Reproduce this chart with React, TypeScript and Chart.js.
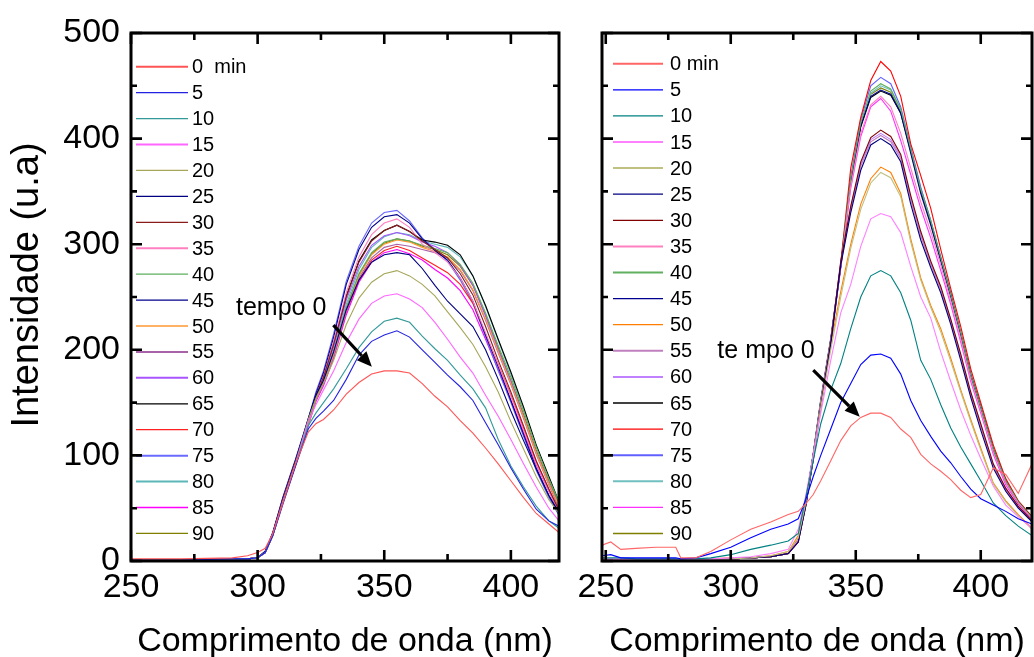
import React, { useEffect, useRef } from 'react';
import { Chart, registerables } from 'chart.js';

Chart.register(...registerables);

const FONT = "'Liberation Sans', Arial, Helvetica, sans-serif";

// ---------- axis ticks ----------
const X_TICKS = [250, 300, 350, 400];
const X_MINOR = [275, 325, 375];
const Y_TICKS = [0, 100, 200, 300, 400, 500];
const Y_MINOR = [50, 150, 250, 350, 450];

// ---------- left panel ----------
const WL_LEFT = [250, 270, 290, 296, 300, 303, 306, 310, 315, 320, 323, 326, 330, 335, 340, 345, 350, 355, 360, 365, 370, 375, 380, 385, 390, 395, 400, 405, 410, 415, 419];
const LABELS_LEFT = ['0  min', '5', '10', '15', '20', '25', '30', '35', '40', '45', '50', '55', '60', '65', '70', '75', '80', '85', '90'];
const LEFT_0 = [2, 2, 3, 5, 8, 12, 26, 55, 92, 122, 130, 134, 143, 158, 169, 177, 180, 180, 178, 168, 156, 146, 133, 121, 107, 92, 76, 60, 45, 35, 27];
const LEFT_5 = [1, 1, 2, 2, 3, 8, 24, 54, 90, 125, 135, 142, 152, 172, 195, 208, 214, 218, 212, 200, 188, 176, 165, 152, 131, 110, 88, 68, 49, 38, 33];
const LEFT_10 = [1, 1, 2, 2, 3, 8, 24, 55, 91, 128, 140, 150, 163, 182, 202, 217, 227, 230, 226, 213, 201, 190, 176, 163, 145, 115, 90, 70, 52, 38, 31];
const LEFT_15 = [1, 1, 2, 2, 3, 8, 25, 56, 92, 132, 148, 162, 180, 207, 229, 244, 251, 253, 248, 240, 226, 210, 193, 178, 157, 137, 115, 92, 70, 50, 38];
const LEFT_20 = [1, 1, 2, 2, 3, 8, 25, 57, 93, 134, 154, 168, 190, 224, 249, 264, 272, 275, 270, 262, 251, 236, 221, 205, 184, 160, 132, 106, 80, 58, 45];
const LEFT_25 = [1, 1, 2, 2, 3, 9, 25, 58, 94, 135, 157, 171, 198, 238, 266, 283, 290, 292, 290, 277, 261, 246, 234, 222, 200, 172, 142, 114, 87, 62, 46];
const LEFT_30 = [1, 1, 2, 2, 3, 9, 26, 59, 95, 133, 156, 174, 205, 250, 283, 303, 313, 318, 312, 303, 295, 287, 272, 252, 222, 190, 160, 128, 95, 68, 48];
const LEFT_35 = [1, 1, 2, 2, 3, 8, 25, 58, 94, 132, 156, 175, 207, 254, 288, 309, 320, 324, 316, 300, 292, 283, 268, 246, 216, 186, 156, 124, 92, 66, 46];
const LEFT_40 = [1, 1, 2, 2, 3, 9, 25, 57, 92, 130, 154, 171, 198, 240, 272, 292, 302, 305, 303, 299, 296, 292, 281, 263, 235, 204, 174, 142, 108, 78, 56];
const LEFT_45 = [1, 1, 2, 2, 3, 9, 27, 60, 96, 134, 158, 178, 212, 262, 295, 316, 326, 328, 320, 305, 294, 285, 268, 246, 214, 184, 152, 120, 88, 62, 44];
const LEFT_50 = [1, 1, 2, 2, 3, 8, 24, 56, 91, 129, 153, 169, 196, 238, 270, 290, 300, 304, 302, 297, 293, 288, 276, 257, 229, 198, 168, 136, 102, 73, 52];
const LEFT_55 = [1, 1, 2, 2, 3, 8, 24, 56, 91, 129, 152, 168, 194, 236, 268, 287, 297, 300, 298, 295, 292, 287, 275, 256, 228, 197, 167, 135, 101, 72, 50];
const LEFT_60 = [1, 1, 2, 2, 3, 9, 26, 59, 95, 133, 156, 173, 203, 247, 279, 299, 308, 311, 308, 302, 298, 292, 280, 261, 232, 200, 170, 137, 103, 74, 52];
const LEFT_65 = [1, 1, 2, 2, 3, 9, 26, 59, 95, 133, 157, 175, 206, 251, 284, 304, 313, 318, 312, 304, 302, 299, 290, 270, 242, 210, 179, 146, 110, 80, 56];
const LEFT_70 = [1, 1, 2, 2, 3, 8, 25, 57, 93, 131, 155, 170, 196, 236, 266, 285, 294, 298, 294, 287, 280, 273, 262, 244, 215, 186, 157, 126, 94, 68, 48];
const LEFT_75 = [1, 1, 2, 2, 3, 9, 27, 61, 97, 135, 160, 180, 215, 265, 298, 320, 330, 332, 322, 306, 295, 284, 266, 244, 212, 180, 150, 118, 86, 60, 43];
const LEFT_80 = [1, 1, 2, 2, 3, 8, 25, 57, 92, 130, 154, 171, 200, 243, 276, 297, 307, 311, 309, 303, 300, 297, 288, 270, 241, 209, 177, 144, 109, 79, 55];
const LEFT_85 = [1, 1, 2, 2, 3, 8, 24, 56, 91, 128, 151, 166, 192, 233, 264, 283, 292, 295, 291, 285, 276, 268, 256, 238, 210, 181, 152, 122, 91, 66, 47];
const LEFT_90 = [1, 1, 2, 2, 3, 8, 25, 57, 92, 130, 154, 170, 197, 239, 271, 291, 301, 305, 303, 298, 295, 290, 279, 261, 233, 202, 171, 139, 105, 76, 54];
const SERIES_LEFT = [LEFT_0, LEFT_5, LEFT_10, LEFT_15, LEFT_20, LEFT_25, LEFT_30, LEFT_35, LEFT_40, LEFT_45, LEFT_50, LEFT_55, LEFT_60, LEFT_65, LEFT_70, LEFT_75, LEFT_80, LEFT_85, LEFT_90];
const COLORS_LEFT = ['#ff5555', '#2222e0', '#339999', '#ff66ff', '#a6a65a', '#000080', '#8b1c1c', '#ff7fbf', '#5fae5f', '#00008b', '#ff9933', '#a862a8', '#a855ff', '#000000', '#ff2020', '#6a6aff', '#5cb8b8', '#ff00ff', '#808000'];

// ---------- right panel ----------
const WL_RIGHT = [248.5, 252, 256, 262, 270, 278, 280, 286, 292, 300, 308, 316, 323, 327, 330, 333, 336, 340, 344, 348, 352, 356, 360, 364, 368, 372, 376, 380, 384, 388, 392, 396, 400, 405, 410, 415, 420.5];
const LABELS_RIGHT = ['0 min', '5', '10', '15', '20', '25', '30', '35', '40', '45', '50', '55', '60', '65', '70', '75', '80', '85', '90'];
const RIGHT_0 = [15, 18, 11, 12, 13, 13, 3, 3, 9, 20, 30, 37, 44, 47, 54, 63, 76, 95, 114, 128, 136, 140, 140, 136, 125, 117, 101, 92, 85, 77, 67, 60, 63, 88, 82, 64, 92];
const RIGHT_5 = [5, 6, 3, 3, 3, 3, 2, 3, 7, 13, 22, 30, 35, 40, 58, 80, 100, 125, 150, 168, 186, 195, 196, 192, 177, 152, 133, 118, 104, 93, 80, 68, 59, 53, 47, 40, 35];
const RIGHT_10 = [3, 3, 3, 2, 2, 2, 2, 2, 3, 6, 11, 15, 19, 26, 60, 95, 130, 162, 187, 220, 250, 270, 275, 270, 254, 228, 190, 172, 148, 126, 108, 92, 76, 55, 43, 33, 24];
const RIGHT_15 = [2, 2, 2, 2, 2, 2, 2, 2, 2, 3, 4, 7, 11, 30, 62, 100, 140, 190, 235, 262, 298, 324, 329, 326, 311, 279, 250, 230, 198, 170, 143, 119, 97, 71, 53, 42, 31];
const RIGHT_20 = [2, 2, 2, 2, 2, 2, 2, 2, 2, 2, 3, 5, 9, 22, 55, 98, 145, 200, 250, 296, 333, 358, 368, 363, 345, 302, 266, 240, 217, 189, 160, 132, 105, 73, 56, 43, 30];
const RIGHT_25 = [1, 1, 1, 1, 1, 1, 1, 1, 2, 2, 3, 4, 7, 18, 52, 96, 145, 205, 280, 330, 370, 394, 400, 394, 378, 338, 304, 278, 254, 224, 190, 155, 124, 88, 66, 50, 37];
const RIGHT_30 = [1, 1, 1, 1, 1, 1, 1, 1, 2, 2, 3, 4, 7, 18, 53, 97, 147, 207, 284, 336, 378, 401, 408, 402, 385, 346, 312, 284, 260, 229, 196, 160, 130, 92, 69, 52, 38];
const RIGHT_35 = [1, 1, 1, 1, 1, 1, 1, 1, 2, 2, 3, 4, 7, 20, 55, 100, 150, 208, 278, 355, 405, 432, 440, 430, 405, 372, 340, 312, 280, 246, 210, 172, 142, 103, 74, 55, 40];
const RIGHT_40 = [1, 1, 1, 1, 1, 1, 1, 1, 2, 2, 3, 4, 7, 20, 56, 101, 152, 210, 280, 362, 415, 445, 452, 447, 428, 390, 352, 322, 287, 252, 216, 176, 146, 106, 76, 56, 41];
const RIGHT_45 = [1, 1, 1, 1, 1, 1, 1, 1, 2, 2, 3, 4, 7, 20, 56, 101, 151, 209, 279, 360, 412, 440, 446, 442, 424, 386, 348, 318, 284, 250, 214, 175, 145, 105, 75, 55, 40];
const RIGHT_50 = [1, 1, 1, 1, 1, 1, 1, 1, 2, 3, 3, 5, 9, 24, 58, 100, 148, 205, 255, 300, 338, 362, 373, 368, 348, 305, 268, 242, 220, 192, 162, 134, 107, 74, 57, 44, 31];
const RIGHT_55 = [1, 1, 1, 1, 1, 1, 1, 1, 2, 2, 3, 4, 7, 18, 52, 96, 146, 206, 281, 333, 374, 397, 403, 397, 381, 342, 308, 281, 257, 226, 193, 157, 127, 90, 67, 51, 38];
const RIGHT_60 = [1, 1, 1, 1, 1, 1, 1, 1, 2, 2, 3, 4, 7, 18, 53, 97, 146, 206, 282, 335, 376, 399, 405, 399, 383, 344, 309, 282, 258, 228, 194, 158, 128, 91, 68, 51, 38];
const RIGHT_65 = [1, 1, 1, 1, 1, 1, 1, 1, 2, 2, 3, 4, 7, 20, 56, 101, 151, 209, 279, 359, 411, 439, 445, 441, 424, 388, 350, 320, 286, 252, 215, 176, 146, 106, 76, 56, 41];
const RIGHT_70 = [1, 1, 1, 1, 1, 1, 1, 1, 2, 2, 3, 4, 7, 20, 52, 98, 150, 210, 282, 372, 420, 455, 473, 464, 440, 395, 365, 334, 295, 258, 222, 182, 150, 110, 78, 57, 42];
const RIGHT_75 = [1, 1, 1, 1, 1, 1, 1, 1, 2, 2, 3, 4, 7, 21, 57, 102, 153, 211, 281, 364, 418, 450, 458, 452, 430, 392, 354, 322, 288, 253, 216, 177, 146, 106, 76, 56, 41];
const RIGHT_80 = [1, 1, 1, 1, 1, 1, 1, 1, 2, 2, 3, 4, 7, 20, 56, 101, 152, 210, 280, 361, 414, 443, 450, 446, 427, 390, 353, 323, 288, 254, 217, 178, 147, 107, 77, 56, 41];
const RIGHT_85 = [1, 1, 1, 1, 1, 1, 1, 1, 2, 2, 3, 4, 7, 20, 55, 99, 149, 207, 277, 353, 402, 430, 438, 426, 398, 366, 334, 306, 275, 243, 207, 170, 140, 101, 72, 54, 39];
const RIGHT_90 = [1, 1, 1, 1, 1, 1, 1, 1, 2, 2, 3, 4, 7, 20, 56, 101, 151, 209, 279, 360, 413, 442, 448, 444, 426, 389, 351, 321, 287, 253, 216, 177, 146, 106, 76, 56, 41];
const SERIES_RIGHT = [RIGHT_0, RIGHT_5, RIGHT_10, RIGHT_15, RIGHT_20, RIGHT_25, RIGHT_30, RIGHT_35, RIGHT_40, RIGHT_45, RIGHT_50, RIGHT_55, RIGHT_60, RIGHT_65, RIGHT_70, RIGHT_75, RIGHT_80, RIGHT_85, RIGHT_90];
const COLORS_RIGHT = ['#ff6666', '#0000ff', '#008080', '#ff80ff', '#c0c080', '#000080', '#800000', '#ff80c0', '#60b060', '#000090', '#ff8000', '#c080c0', '#c080ff', '#000000', '#ff0000', '#6060ff', '#70c0c0', '#ff30ff', '#808000'];

// annotation "tempo 0" (data coordinates)
const ANNOT_LEFT = { text: 'tempo 0', tx: 309.3, ty: 239.4, ax1: 329.9, ay1: 223.4, ax2: 345.1, ay2: 183.9 };
const ANNOT_RIGHT = { text: 'te mpo 0', tx: 314.1, ty: 198.8, ax1: 333, ay1: 180.8, ax2: 351.6, ay2: 136.6 };

const decorPlugin = {
  id: 'panelDecor',
  afterDatasetsDraw(chart: any, _args: any, opts: any) {
    const { ctx, chartArea: a } = chart;
    const x = chart.scales.x;
    const y = chart.scales.y;
    ctx.save();

    // legend inside plot
    ctx.textBaseline = 'middle';
    ctx.textAlign = 'left';
    ctx.font = `20px ${FONT}`;
    chart.data.datasets.forEach((ds: any, i: number) => {
      const yy = opts.legendY0 + i * opts.legendStep;
      ctx.strokeStyle = ds.borderColor;
      ctx.lineWidth = opts.thick.includes(i) ? 2 : 1.3;
      ctx.beginPath();
      ctx.moveTo(opts.legendX0, yy);
      ctx.lineTo(opts.legendX1, yy);
      ctx.stroke();
      ctx.fillStyle = '#000';
      ctx.fillText(ds.label, opts.legendTextX, yy + 1);
    });

    // annotation
    const an = opts.annotation;
    ctx.font = `25px ${FONT}`;
    ctx.textAlign = 'center';
    ctx.fillStyle = '#000';
    ctx.fillText(an.text, x.getPixelForValue(an.tx), y.getPixelForValue(an.ty));
    const x1 = x.getPixelForValue(an.ax1);
    const y1 = y.getPixelForValue(an.ay1);
    const x2 = x.getPixelForValue(an.ax2);
    const y2 = y.getPixelForValue(an.ay2);
    const ang = Math.atan2(y2 - y1, x2 - x1);
    const hl = 15;
    const hw = 6.5;
    const bx = x2 - hl * Math.cos(ang);
    const by = y2 - hl * Math.sin(ang);
    ctx.strokeStyle = '#000';
    ctx.lineWidth = 3.2;
    ctx.beginPath();
    ctx.moveTo(x1, y1);
    ctx.lineTo(bx, by);
    ctx.stroke();
    ctx.beginPath();
    ctx.moveTo(x2, y2);
    ctx.lineTo(bx + hw * Math.sin(ang), by - hw * Math.cos(ang));
    ctx.lineTo(bx - hw * Math.sin(ang), by + hw * Math.cos(ang));
    ctx.closePath();
    ctx.fill();

    // y-axis title
    if (opts.yTitle) {
      ctx.save();
      ctx.translate(opts.yTitle.x, opts.yTitle.y);
      ctx.rotate(-Math.PI / 2);
      ctx.font = `38px ${FONT}`;
      ctx.textAlign = 'center';
      ctx.textBaseline = 'middle';
      ctx.fillText(opts.yTitle.text, 0, 0);
      ctx.restore();
    }

    // frame
    ctx.strokeStyle = '#000';
    ctx.lineWidth = 3;
    ctx.strokeRect(a.left, a.top, a.right - a.left, a.bottom - a.top);

    // inward ticks on all four sides
    ctx.lineWidth = 2.6;
    const xt = (vals: number[], len: number) => {
      vals.forEach((v) => {
        const px = x.getPixelForValue(v);
        if (px < a.left - 0.5 || px > a.right + 0.5) return;
        ctx.beginPath();
        ctx.moveTo(px, a.bottom);
        ctx.lineTo(px, a.bottom - len);
        ctx.moveTo(px, a.top);
        ctx.lineTo(px, a.top + len);
        ctx.stroke();
      });
    };
    const yt = (vals: number[], len: number) => {
      vals.forEach((v) => {
        const py = y.getPixelForValue(v);
        ctx.beginPath();
        ctx.moveTo(a.left, py);
        ctx.lineTo(a.left + len, py);
        ctx.moveTo(a.right, py);
        ctx.lineTo(a.right - len, py);
        ctx.stroke();
      });
    };
    xt(X_TICKS, 11);
    xt(X_MINOR, 7);
    yt(Y_TICKS, 11);
    yt(Y_MINOR, 6);
    ctx.restore();
  },
};

function makeConfig(side: 'left' | 'right'): any {
  const isLeft = side === 'left';
  const wl = isLeft ? WL_LEFT : WL_RIGHT;
  const series = isLeft ? SERIES_LEFT : SERIES_RIGHT;
  const labels = isLeft ? LABELS_LEFT : LABELS_RIGHT;
  const colors = isLeft ? COLORS_LEFT : COLORS_RIGHT;
  const datasets = series.map((s, i) => ({
    label: labels[i],
    data: wl.map((w, j) => ({ x: w, y: s[j] })),
    borderColor: colors[i],
    backgroundColor: colors[i],
    borderWidth: 1.1,
    pointRadius: 0,
    fill: false,
    tension: 0,
  }));
  return {
    type: 'line',
    data: { datasets },
    plugins: [decorPlugin],
    options: {
      responsive: false,
      animation: false,
      events: [],
      layout: { padding: { left: 0, top: 33, right: isLeft ? 21 : 2, bottom: 0 } },
      scales: {
        x: {
          type: 'linear',
          min: isLeft ? 250 : 248.5,
          max: isLeft ? 419 : 420.5,
          afterBuildTicks: (s: any) => {
            s.ticks = X_TICKS.map((v) => ({ value: v }));
          },
          afterFit: (s: any) => {
            s.height = 96;
          },
          grid: { display: false, drawTicks: false },
          border: { display: false },
          ticks: {
            color: '#000',
            font: { family: FONT, size: 34 },
            padding: 6,
            maxRotation: 0,
            autoSkip: false,
          },
          title: {
            display: true,
            text: 'Comprimento de onda (nm)',
            color: '#000',
            font: { family: FONT, size: 34, lineHeight: 0.9 },
            padding: 0,
          },
        },
        y: {
          type: 'linear',
          min: 0,
          max: 500,
          afterBuildTicks: (s: any) => {
            s.ticks = Y_TICKS.map((v) => ({ value: v }));
          },
          afterFit: (s: any) => {
            s.width = isLeft ? 131 : 32;
          },
          grid: { display: false, drawTicks: false },
          border: { display: false },
          ticks: {
            display: isLeft,
            color: '#000',
            font: { family: FONT, size: 34 },
            padding: 11,
          },
        },
      },
      plugins: {
        legend: { display: false },
        tooltip: { enabled: false },
        panelDecor: isLeft
          ? {
              legendX0: 136,
              legendX1: 188,
              legendTextX: 192,
              legendY0: 66.7,
              legendStep: 25.93,
              thick: [0, 3, 7, 11, 12, 15, 16],
              annotation: ANNOT_LEFT,
              yTitle: { text: 'Intensidade (u.a)', x: 28, y: 285 },
            }
          : {
              legendX0: 43,
              legendX1: 93,
              legendTextX: 100,
              legendY0: 63.7,
              legendStep: 26.1,
              thick: [0, 3, 4, 7, 8, 11, 12, 15, 16],
              annotation: ANNOT_RIGHT,
              yTitle: null,
            },
      },
    },
  };
}

export default function App() {
  const leftRef = useRef<HTMLCanvasElement>(null);
  const rightRef = useRef<HTMLCanvasElement>(null);

  useEffect(() => {
    const c1 = new Chart(leftRef.current as HTMLCanvasElement, makeConfig('left'));
    const c2 = new Chart(rightRef.current as HTMLCanvasElement, makeConfig('right'));
    return () => {
      c1.destroy();
      c2.destroy();
    };
  }, []);

  return (
    <div style={{ position: 'absolute', left: 0, top: 0, width: 1034, height: 657, background: '#fff', overflow: 'hidden' }}>
      <canvas ref={leftRef} width={580} height={657} style={{ position: 'absolute', left: 0, top: 0, width: 580, height: 657 }} />
      <canvas ref={rightRef} width={464} height={657} style={{ position: 'absolute', left: 570, top: 0, width: 464, height: 657 }} />
    </div>
  );
}
